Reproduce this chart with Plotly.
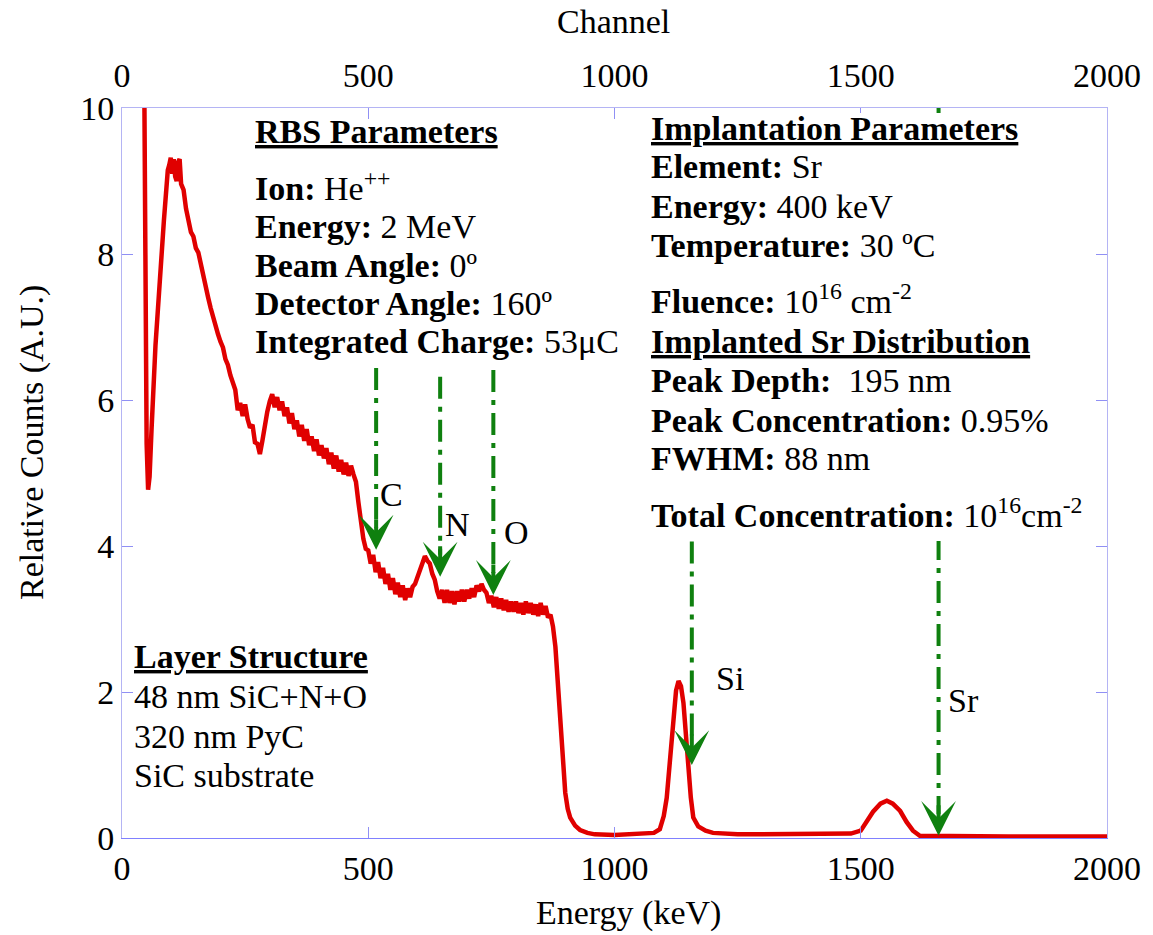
import plotly.graph_objects as go

# ---------------- data ----------------
energy_keV = [45, 47, 50, 53, 56, 60, 64, 68, 72, 77, 81, 85, 89, 93, 96, 99, 102, 105, 108, 111, 114, 117, 120,
              125, 130, 135, 140, 145, 150, 155, 160, 165, 170, 175, 180, 185, 190, 195, 200, 205, 210, 215, 220,
              225, 230, 235, 240, 245, 250, 255, 260, 265, 270, 275, 280, 285, 290, 295, 300, 305, 310, 315, 320,
              325, 330, 335, 340, 345, 350, 355, 360, 365, 370, 375, 380, 385, 390, 395, 400, 405, 410, 415, 420,
              425, 430, 435, 440, 445, 450, 455, 460, 465, 470, 475, 480, 485, 490, 495, 500, 505, 510, 515, 520,
              525, 530, 535, 540, 545, 550, 555, 560, 565, 570, 575, 580, 585, 590, 595, 600, 605, 610, 615, 620,
              625, 630, 635, 640, 645, 650, 655, 660, 665, 670, 675, 680, 685, 690, 695, 700, 705, 710, 715, 720,
              725, 730, 735, 740, 745, 750, 755, 760, 765, 770, 775, 780, 785, 790, 795, 800, 805, 810, 815, 820,
              825, 830, 835, 840, 845, 850, 855, 860, 865, 870, 875, 880, 885, 890, 895, 900,
              905, 910, 920, 930, 945, 960, 1000, 1050, 1080, 1092, 1100, 1106, 1112, 1119, 1125, 1130, 1135,
              1140, 1145, 1150, 1155, 1160, 1170, 1185, 1200, 1250, 1300, 1400, 1480, 1500, 1512, 1525, 1540,
              1553, 1565, 1580, 1593, 1606, 1620, 1700, 1800, 1900, 2000]
counts = [10.6, 8.0, 5.4, 4.77, 4.95, 5.6, 6.25, 6.75, 7.15, 7.55, 8.05, 8.45, 8.85, 9.15, 9.22, 9.32, 9.1, 9.3,
          9.06, 9.0, 9.26, 9.3, 8.96,
          8.88, 8.62, 8.48, 8.3, 8.24, 8.08, 8.02, 7.86, 7.72, 7.5, 7.4, 7.26, 7.12, 6.98, 6.9, 6.8, 6.72, 6.56,
          6.48, 6.34, 6.24, 6.14, 5.86, 5.96, 5.78, 5.94, 5.74, 5.62, 5.66, 5.42, 5.4, 5.26, 5.44, 5.66, 5.84,
          5.98, 6.08, 5.9, 6.04, 5.86, 5.98, 5.78, 5.9, 5.68, 5.82, 5.6, 5.72, 5.5, 5.66, 5.44, 5.6, 5.38, 5.5,
          5.3, 5.46, 5.24, 5.38, 5.2, 5.34, 5.12, 5.28, 5.06, 5.24, 5.02, 5.18, 4.98, 5.14, 4.96, 5.1, 4.98, 4.88,
          4.6, 4.28, 4.1, 3.96, 3.94, 3.76, 3.88, 3.64, 3.78, 3.56, 3.7, 3.48, 3.62, 3.4, 3.56, 3.34, 3.5, 3.3,
          3.46, 3.26, 3.42, 3.3, 3.44, 3.48, 3.58, 3.66, 3.78, 3.86, 3.8, 3.76, 3.62, 3.54, 3.38, 3.28, 3.4, 3.22,
          3.4, 3.22, 3.38, 3.2, 3.38, 3.24, 3.4, 3.24, 3.4, 3.28, 3.42, 3.3, 3.46, 3.38, 3.48, 3.4, 3.36, 3.22,
          3.32, 3.16, 3.3, 3.14, 3.28, 3.12, 3.26, 3.1, 3.24, 3.1, 3.24, 3.08, 3.22, 3.06, 3.24, 3.08, 3.22, 3.06,
          3.2, 3.04, 3.22, 3.06, 3.18, 3.02, 3.06, 2.9, 2.62, 2.15, 1.55, 1.0, 0.62,
          0.4, 0.28, 0.17, 0.11, 0.07, 0.05, 0.04, 0.05, 0.07, 0.12, 0.3, 0.55, 1.0, 1.65, 2.02, 2.15, 2.08,
          1.85, 1.4, 0.95, 0.55, 0.28, 0.16, 0.1, 0.07, 0.05, 0.05, 0.05, 0.06, 0.1, 0.22, 0.36, 0.47,
          0.51, 0.47, 0.37, 0.22, 0.1, 0.03, 0.02, 0.02, 0.02, 0.02]

elements = ["C", "N", "O", "Si", "Sr"]
element_energy = [516, 646, 754, 1157, 1658]
marker_top = [6.44, 6.32, 6.41, 4.06, 10.0]
marker_tip = [3.95, 3.58, 3.33, 1.0, 0.03]
label_x = [520, 652, 772, 1202, 1673]
label_y = [4.70, 4.30, 4.18, 2.19, 1.89]

x_ticks = [0, 500, 1000, 1500, 2000]
y_ticks = [0, 2, 4, 6, 8, 10]

rbs_lines = ["<b><u>RBS Parameters</u></b>",
             "<b>Ion:</b> He<sup>++</sup>",
             "<b>Energy:</b> 2 MeV",
             "<b>Beam Angle:</b> 0º",
             "<b>Detector Angle:</b> 160º",
             "<b>Integrated Charge:</b> 53μC"]
impl_lines = ["<b><u>Implantation Parameters</u></b>",
              "<b>Element:</b> Sr",
              "<b>Energy:</b> 400 keV",
              "<b>Temperature:</b> 30 ºC",
              "<b>Fluence:</b> 10<sup>16</sup> cm<sup>-2</sup>",
              "<b><u>Implanted Sr Distribution</u></b>",
              "<b>Peak Depth:</b>  195 nm",
              "<b>Peak Concentration:</b> 0.95%",
              "<b>FWHM:</b> 88 nm",
              "<b>Total Concentration:</b> 10<sup>16</sup>cm<sup>-2</sup>"]
layer_lines = ["<b><u>Layer Structure</u></b>",
               "48 nm SiC+N+O",
               "320 nm PyC",
               "SiC substrate"]

# ---------------- layout helpers ----------------
W, H = 1153, 935
L, R, T, B = 122, 1107, 108, 838
FONT = "Liberation Serif"
FS = 34
RED = "#e00000"
GREEN = "#0f800f"
FRAME = "#9090f4"


def px(xp):
    return (xp - L) / (R - L)


def py(yp):
    return (B - yp) / (B - T)


fig = go.Figure()

# green dash-dot marker lines
for e, top, tip in zip(element_energy, marker_top, marker_tip):
    fig.add_trace(go.Scatter(x=[e, e], y=[top, tip + 0.3], mode="lines",
                             line=dict(color=GREEN, width=4, dash="22px,8px,5px,8px"),
                             hoverinfo="skip", showlegend=False))

# spectrum
fig.add_trace(go.Scatter(x=energy_keV, y=counts, mode="lines",
                         line=dict(color=RED, width=4.5), showlegend=False))

# invisible trace for top axis
fig.add_trace(go.Scatter(x=[0, 2000], y=[0, 0], xaxis="x2", mode="lines",
                         line=dict(width=0), opacity=0, hoverinfo="skip", showlegend=False))

annotations = []
shapes = []

# white text box hiding the Sr line behind the implantation block
shapes.append(dict(type="rect", xref="paper", yref="paper", x0=px(646), x1=px(1092),
                   y0=py(541), y1=py(113), fillcolor="white", line=dict(width=0), layer="above"))

# arrowheads
for e, tip in zip(element_energy, marker_tip):
    annotations.append(dict(x=e, y=tip, xref="x", yref="y", text="", showarrow=True,
                            ax=0, ay=-32, arrowhead=3, arrowsize=1.45, arrowwidth=4,
                            arrowcolor=GREEN, standoff=0))
# element labels
for name, lx, ly in zip(elements, label_x, label_y):
    annotations.append(dict(x=lx, y=ly, xref="x", yref="y", text=name, showarrow=False,
                            xanchor="left", yanchor="middle", font=dict(family=FONT, size=FS, color="black")))

DESC = 8


def add_block(lines, xl, baselines):
    for txt, bl in zip(lines, baselines):
        annotations.append(dict(x=px(xl), y=py(bl + DESC), xref="paper", yref="paper", text=txt,
                                showarrow=False, xanchor="left", yanchor="bottom", borderpad=0,
                                font=dict(family=FONT, size=FS, color="black")))


add_block(rbs_lines, 254, [143, 200, 238, 277, 315, 353])
add_block(impl_lines, 650, [140, 178, 218, 257, 313, 353, 392, 432, 470, 527])
add_block(layer_lines, 133, [668, 708, 748, 787])

# axis titles
annotations.append(dict(x=px(613), y=py(22), xref="paper", yref="paper", text="Channel",
                        showarrow=False, xanchor="center", yanchor="middle",
                        font=dict(family=FONT, size=FS, color="black")))
annotations.append(dict(x=px(628), y=py(913), xref="paper", yref="paper", text="Energy (keV)",
                        showarrow=False, xanchor="center", yanchor="middle",
                        font=dict(family=FONT, size=FS, color="black")))
annotations.append(dict(x=px(32), y=py(443), xref="paper", yref="paper", text="Relative Counts (A.U.)",
                        showarrow=False, xanchor="center", yanchor="middle", textangle=-90,
                        font=dict(family=FONT, size=FS, color="black")))

axis_common = dict(ticks="inside", ticklen=11, tickwidth=1, tickcolor=FRAME, showgrid=False,
                   zeroline=False, showline=True, linewidth=1,
                   tickfont=dict(family=FONT, size=FS, color="black"))

fig.update_layout(
    width=W, height=H, autosize=False,
    margin=dict(l=L, r=W - R, t=T, b=H - B, pad=0),
    paper_bgcolor="white", plot_bgcolor="white",
    xaxis=dict(range=[0, 2000], tickvals=x_ticks, linecolor="#8080ff", **axis_common),
    xaxis2=dict(range=[0, 2000], tickvals=x_ticks, overlaying="x", side="top", anchor="y",
                linecolor="#b4b4f4", ticklabelstandoff=6, **axis_common),
    yaxis=dict(range=[0, 10], tickvals=y_ticks, linecolor="#b4b4f4", mirror="ticks", **axis_common),
    annotations=annotations,
    shapes=shapes,
    showlegend=False,
)

fig.write_html("out.html")
